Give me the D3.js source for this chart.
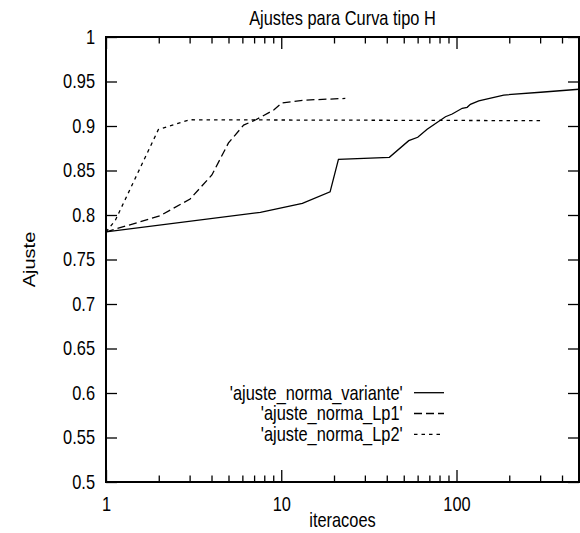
<!DOCTYPE html>
<html>
<head>
<meta charset="utf-8">
<script src="https://cdn.jsdelivr.net/npm/d3@7"></script>
<style>
  html, body { margin: 0; padding: 0; background: #fff; }
  svg { display: block; }
  text { font-family: "Liberation Sans", Arial, Helvetica, sans-serif; font-size: 20px; fill: #000; }
</style>
</head>
<body>
<div id="chart"></div>
<script>
// ---- data ----
const title = "Ajustes para Curva tipo H";
const xLabel = "iteracoes";
const yLabel = "Ajuste";
const seriesNames = ["'ajuste_norma_variante'", "'ajuste_norma_Lp1'", "'ajuste_norma_Lp2'"];

const variIter = [1, 7.6, 13.2, 19, 21.2, 41.4, 53.4, 60.1, 68, 86.5, 94.5, 107.8, 115, 120, 134, 186, 302, 500];
const variVal  = [0.781, 0.803, 0.813, 0.826, 0.8626, 0.8648, 0.8835, 0.8873, 0.8963, 0.9104, 0.9135, 0.9199, 0.921, 0.9244, 0.9281, 0.9348, 0.9379, 0.9413];

const lp1Iter = [1, 2.03, 3.02, 4.02, 5.0, 6.1, 7.16, 9.06, 10.1, 13.4, 23.2];
const lp1Val  = [0.781, 0.799, 0.818, 0.845, 0.881, 0.901, 0.907, 0.918, 0.926, 0.929, 0.931];

const lp2Iter = [1, 1.13, 1.99, 3.0, 300];
const lp2Val  = [0.781, 0.794, 0.896, 0.907, 0.906];

const xMajorTicks = [1, 10, 100];
const xMinorTicks = [2, 3, 4, 5, 6, 7, 8, 9, 20, 30, 40, 50, 60, 70, 80, 90, 200, 300, 400];
const yTicks = [0.5, 0.55, 0.6, 0.65, 0.7, 0.75, 0.8, 0.85, 0.9, 0.95, 1];
const yTickLabels = ["0.5", "0.55", "0.6", "0.65", "0.7", "0.75", "0.8", "0.85", "0.9", "0.95", "1"];

// ---- layout ----
const W = 580, H = 533;
const pLeft = 106, pRight = 579, pTop = 37, pBottom = 482;
const SX = 0.82; // horizontal text compression

const svg = d3.select("#chart").append("svg").attr("width", W).attr("height", H);

const x = d3.scaleLog().domain([1, 500]).range([pLeft, pRight]);
const y = d3.scaleLinear().domain([0.5, 1]).range([pBottom, pTop]);

function narrow(sel) {
  sel.each(function () {
    const t = d3.select(this);
    const xv = +t.attr("x") || 0;
    t.attr("x", xv / SX).attr("transform", `scale(${SX},1)`);
  });
}
function styleAxis(g) {
  g.select(".domain").remove();
  g.selectAll(".tick line").attr("stroke", "#000").attr("stroke-width", 1.3);
  g.selectAll("text").attr("font-size", 20).attr("font-family", "Liberation Sans, Arial, sans-serif").attr("fill", "#000");
}

// bottom axis
const gxB = svg.append("g").attr("transform", `translate(0,${pBottom})`)
  .call(d3.axisBottom(x).tickValues(xMajorTicks).tickSize(-12).tickPadding(15).tickFormat(d3.format("d")));
styleAxis(gxB); narrow(gxB.selectAll("text"));
const gxBm = svg.append("g").attr("transform", `translate(0,${pBottom})`)
  .call(d3.axisBottom(x).tickValues(xMinorTicks).tickSize(-6.5).tickFormat(""));
styleAxis(gxBm);
// top axis (mirror)
const gxT = svg.append("g").attr("transform", `translate(0,${pTop})`)
  .call(d3.axisTop(x).tickValues(xMajorTicks).tickSize(-12).tickFormat(""));
styleAxis(gxT);
const gxTm = svg.append("g").attr("transform", `translate(0,${pTop})`)
  .call(d3.axisTop(x).tickValues(xMinorTicks).tickSize(-6.5).tickFormat(""));
styleAxis(gxTm);
// left axis
const gyL = svg.append("g").attr("transform", `translate(${pLeft},0)`)
  .call(d3.axisLeft(y).tickValues(yTicks).tickSize(-11).tickPadding(11)
    .tickFormat((d, i) => yTickLabels[i]));
styleAxis(gyL); narrow(gyL.selectAll("text"));
// right axis (mirror)
const gyR = svg.append("g").attr("transform", `translate(${pRight},0)`)
  .call(d3.axisRight(y).tickValues(yTicks).tickSize(-11).tickFormat(""));
styleAxis(gyR);

// frame
svg.append("rect").attr("x", pLeft).attr("y", pTop)
  .attr("width", pRight - pLeft).attr("height", pBottom - pTop)
  .attr("fill", "none").attr("stroke", "#000").attr("stroke-width", 2);

// lines
const line = d3.line().x(d => x(d[0])).y(d => y(d[1]));
const series = [
  { name: seriesNames[0], pts: d3.zip(variIter, variVal), dash: null },
  { name: seriesNames[1], pts: d3.zip(lp1Iter, lp1Val), dash: "8,4" },
  { name: seriesNames[2], pts: d3.zip(lp2Iter, lp2Val), dash: "3.5,4" }
];
svg.append("clipPath").attr("id", "clip").append("rect")
  .attr("x", pLeft).attr("y", pTop).attr("width", pRight - pLeft).attr("height", pBottom - pTop);
series.forEach(s => {
  svg.append("path").attr("d", line(s.pts)).attr("fill", "none")
    .attr("stroke", "#000").attr("stroke-width", 1.3)
    .attr("stroke-dasharray", s.dash).attr("clip-path", "url(#clip)");
});

// legend
const legRows = [392.7, 413.5, 434.3];
const legTextRight = 402.7, legLineX0 = 414, legLineX1 = 444;
series.forEach((s, i) => {
  svg.append("text").attr("x", legTextRight / SX).attr("y", legRows[i]).attr("dy", "0.35em")
    .attr("text-anchor", "end").attr("transform", `scale(${SX},1)`).text(s.name);
  svg.append("line").attr("x1", legLineX0).attr("x2", legLineX1)
    .attr("y1", legRows[i]).attr("y2", legRows[i])
    .attr("stroke", "#000").attr("stroke-width", 1.3).attr("stroke-dasharray", s.dash);
});

// title & axis labels
svg.append("text").attr("x", ((pLeft + pRight) / 2) / SX).attr("y", 25)
  .attr("text-anchor", "middle").attr("transform", `scale(${SX},1)`).text(title);
svg.append("text").attr("x", ((pLeft + pRight) / 2) / SX).attr("y", 527)
  .attr("text-anchor", "middle").attr("transform", `scale(${SX},1)`).text(xLabel);
svg.append("text").attr("transform", `translate(35,${(pTop + pBottom) / 2}) rotate(-90) scale(1,${SX})`)
  .attr("text-anchor", "middle").text(yLabel);
</script>
</body>
</html>
